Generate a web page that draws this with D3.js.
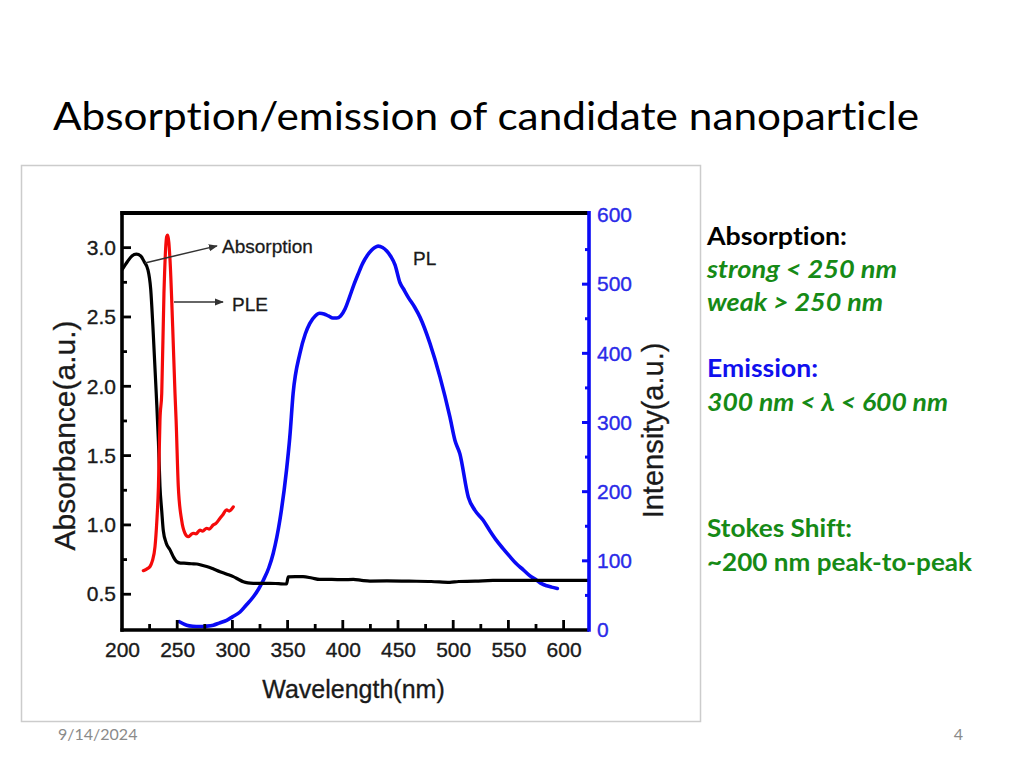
<!DOCTYPE html>
<html>
<head>
<meta charset="utf-8">
<script src="https://cdn.jsdelivr.net/npm/d3@7"></script>
<style>
  html, body { margin: 0; padding: 0; background: #fff; }
  svg { display: block; }
  text { font-variant-ligatures: none; font-feature-settings: "liga" 0, "clig" 0; }
</style>
</head>
<body>
<svg id="chart" width="1024" height="768"></svg>
<script>
// ---------- DATA ----------
const title = "Absorption/emission of candidate nanoparticle";

// Absorption (black, left axis): wavelength nm / absorbance a.u.
const absWavelength = [200, 205, 209, 213, 217, 220, 223.5, 226, 228, 231, 233, 234.4, 236, 237.4, 240, 243.5, 246.5, 249.5, 253, 258.6, 263, 267.7, 272, 276.7, 282, 288.8, 295, 300.8, 305, 309.9, 314, 319, 326, 334, 342, 349, 350.6, 357, 364, 372, 379, 390, 400, 409.5, 417, 424.6, 440, 460, 480, 497, 505, 520, 536, 560, 580, 600, 623];
const absValues     = [2.84, 2.90, 2.94, 2.953, 2.94, 2.90, 2.84, 2.70, 2.43, 1.95, 1.60, 1.276, 1.10, 0.96, 0.87, 0.82, 0.77, 0.735, 0.725, 0.723, 0.72, 0.718, 0.71, 0.70, 0.685, 0.663, 0.645, 0.627, 0.61, 0.59, 0.582, 0.579, 0.578, 0.579, 0.576, 0.574, 0.625, 0.627, 0.627, 0.617, 0.607, 0.607, 0.605, 0.607, 0.60, 0.595, 0.596, 0.594, 0.592, 0.586, 0.592, 0.594, 0.60, 0.60, 0.60, 0.60, 0.60];

// PLE (red, left axis)
const pleWavelength = [219.3, 222, 225.4, 227.5, 229.9, 231.5, 233, 234.4, 236, 238, 240.5, 241.4, 243.5, 245.9, 248, 249, 251, 254, 257, 260, 262.5, 264.6, 267, 270.6, 273, 276.7, 279, 282.7, 285, 288.8, 291, 294.8, 297, 300.8];
const pleValues     = [0.67, 0.68, 0.70, 0.74, 0.843, 1.02, 1.276, 1.757, 1.95, 2.67, 3.08, 3.09, 2.91, 2.43, 1.95, 1.757, 1.276, 1.035, 0.94, 0.915, 0.93, 0.94, 0.935, 0.963, 0.955, 0.976, 0.97, 1.0, 1.01, 1.048, 1.07, 1.108, 1.10, 1.13];

// PL (blue, right axis): intensity a.u.
const plWavelength = [252, 258.6, 264, 270.6, 276, 282.7, 288, 294.8, 300, 306.9, 312, 319, 324, 328, 333, 337, 343, 349, 352, 355, 361, 366, 370, 375, 379, 383, 387, 391, 394.5, 398, 402, 406, 410, 414, 418, 422, 426, 429, 432, 436, 439.8, 443.5, 447.3, 451.8, 455, 459.3, 465, 470, 479, 488, 497, 501.6, 506, 513.7, 519.7, 527, 533, 539, 545, 551.4, 557, 563.5, 569, 575.6, 580, 584.7, 589, 594.3];
const plValues     = [12, 7, 5.5, 5, 5.5, 7, 10, 14, 19, 26, 35, 48, 60, 72, 90, 111, 159, 231, 279, 342, 399, 428, 443, 454, 458, 457, 454, 451, 451, 454, 464, 481, 499, 515, 530, 541, 549, 553, 555, 553, 548, 540, 528, 502, 493, 481, 467, 452, 414, 366, 308, 274, 255, 192, 173, 159, 144, 130, 118, 106, 96, 87, 79, 72, 67, 64, 62, 60];

// Axes tick values / labels
const xTickValues = [200, 250, 300, 350, 400, 450, 500, 550, 600];
const xMinorTicks = [225, 275, 325, 375, 425, 475, 525, 575];
const yLeftTickValues = [0.5, 1.0, 1.5, 2.0, 2.5, 3.0];
const yLeftMinorTicks = [0.75, 1.25, 1.75, 2.25, 2.75];
const yRightTickValues = [0, 100, 200, 300, 400, 500, 600];
const yRightMinorTicks = [50, 150, 250, 350, 450, 550];

const xLabel = "Wavelength(nm)";
const yLeftLabel = "Absorbance(a.u.)";
const yRightLabel = "Intensity(a.u.)";

// annotations (data coordinates)
const annAbsorption = { text: "Absorption", from: [220.8, 2.89], to: [286, 3.013], label: [290.6, 2.962] };
const annPLE = { text: "PLE", from: [247.1, 2.608], to: [291.5, 2.608], label: [299.6, 2.544] };
const annPL = { text: "PL", label: [463.6, 2.875] };

const sideText = [
  { text: "Absorption:", color: "#000000", italic: false, y: 245, w: 140 },
  { text: "strong < 250 nm", color: "#168a16", italic: true, y: 278, w: 190 },
  { text: "weak > 250 nm", color: "#168a16", italic: true, y: 311, w: 176 },
  { text: "Emission:", color: "#1010ee", italic: false, y: 377, w: 111 },
  { text: "300 nm < \u03bb < 600 nm", color: "#168a16", italic: true, y: 411, w: 241 },
  { text: "Stokes Shift:", color: "#168a16", italic: false, y: 537, w: 145 },
  { text: "~200 nm peak-to-peak", color: "#168a16", italic: false, y: 571, w: 265 }
];
const footerDate = "9/14/2024";
const footerPage = "4";

// ---------- DRAWING ----------
const svg = d3.select("#chart");
const chartFont = "'Liberation Sans', Arial, Helvetica, sans-serif";
const slideFont = "Lato, 'Open Sans', sans-serif";

// Title
svg.append("text")
  .attr("x", 53).attr("y", 130)
  .attr("font-family", slideFont).attr("font-size", 39)
  .attr("fill", "#000")
  .attr("textLength", 866).attr("lengthAdjust", "spacingAndGlyphs")
  .text(title);

// picture frame
svg.append("rect")
  .attr("x", 21.5).attr("y", 165.5).attr("width", 679).attr("height", 556)
  .attr("fill", "#fff").attr("stroke", "#cccccc").attr("stroke-width", 1.5);

const L = 122, R = 589, T = 213, B = 630;
const x = d3.scaleLinear().domain([200, 623]).range([L, R]);
const yL = d3.scaleLinear().domain([0.242, 3.25]).range([B, T]);
const yR = d3.scaleLinear().domain([0, 600]).range([B, 215]);

const g = svg.append("g");

// lines
const lineAbs = d3.line().x(d => x(d[0])).y(d => yL(d[1])).curve(d3.curveMonotoneX);
const linePL = d3.line().x(d => x(d[0])).y(d => yR(d[1])).curve(d3.curveMonotoneX);

g.append("path")
  .datum(plWavelength.map((w, i) => [w, plValues[i]]))
  .attr("d", linePL).attr("fill", "none")
  .attr("stroke", "#0a0af5").attr("stroke-width", 3.6).attr("stroke-linejoin", "round").attr("stroke-linecap", "round");

g.append("path")
  .datum(absWavelength.map((w, i) => [w, absValues[i]]))
  .attr("d", lineAbs).attr("fill", "none")
  .attr("stroke", "#000").attr("stroke-width", 3.2).attr("stroke-linejoin", "round");

g.append("path")
  .datum(pleWavelength.map((w, i) => [w, pleValues[i]]))
  .attr("d", lineAbs).attr("fill", "none")
  .attr("stroke", "#f50a0a").attr("stroke-width", 3.2).attr("stroke-linejoin", "round").attr("stroke-linecap", "round");

// axes
const ax = g.append("g").attr("font-family", chartFont);

// top frame line
ax.append("line").attr("x1", L - 1.5).attr("x2", R).attr("y1", T).attr("y2", T)
  .attr("stroke", "#000").attr("stroke-width", 4);

// bottom axis
const xAxis = d3.axisBottom(x).tickValues(xTickValues).tickSize(0).tickPadding(0).tickFormat(d3.format("d"));
const xg = ax.append("g").attr("transform", `translate(0,${B})`).call(xAxis);
xg.select(".domain").remove();
xg.selectAll(".tick text").attr("font-size", 21).attr("fill", "#1a1a1a")
  .attr("stroke", "#1a1a1a").attr("stroke-width", 0.35).attr("dy", null).attr("y", 27);
ax.append("line").attr("x1", L - 1.5).attr("x2", R).attr("y1", B).attr("y2", B).attr("stroke", "#000").attr("stroke-width", 3.6);
ax.selectAll(".xmaj").data(xTickValues.filter(d => d > 200)).join("line")
  .attr("x1", d => x(d)).attr("x2", d => x(d)).attr("y1", B).attr("y2", B - 10)
  .attr("stroke", "#000").attr("stroke-width", 2.8);
ax.selectAll(".xmin").data(xMinorTicks).join("line")
  .attr("x1", d => x(d)).attr("x2", d => x(d)).attr("y1", B).attr("y2", B - 6)
  .attr("stroke", "#000").attr("stroke-width", 2.8);

// left axis
const yLAxis = d3.axisLeft(yL).tickValues(yLeftTickValues).tickSize(0).tickPadding(6).tickFormat(d3.format(".1f"));
const ylg = ax.append("g").attr("transform", `translate(${L},0)`).call(yLAxis);
ylg.select(".domain").remove();
ylg.selectAll(".tick text").attr("font-size", 21).attr("fill", "#1a1a1a")
  .attr("stroke", "#1a1a1a").attr("stroke-width", 0.35);
ax.append("line").attr("x1", L).attr("x2", L).attr("y1", T - 2).attr("y2", B + 1.8).attr("stroke", "#000").attr("stroke-width", 3.6);
ax.selectAll(".ylmaj").data(yLeftTickValues).join("line")
  .attr("x1", L).attr("x2", L + 9).attr("y1", d => yL(d)).attr("y2", d => yL(d))
  .attr("stroke", "#000").attr("stroke-width", 2.8);
ax.selectAll(".ylmin").data(yLeftMinorTicks).join("line")
  .attr("x1", L).attr("x2", L + 5).attr("y1", d => yL(d)).attr("y2", d => yL(d))
  .attr("stroke", "#000").attr("stroke-width", 2.8);

// right axis (blue)
const yRAxis = d3.axisRight(yR).tickValues(yRightTickValues).tickSize(0).tickPadding(8).tickFormat(d3.format("d"));
const yrg = ax.append("g").attr("transform", `translate(${R},0)`).call(yRAxis);
yrg.select(".domain").remove();
yrg.selectAll(".tick text").attr("font-size", 21).attr("fill", "#2a2ae8")
  .attr("stroke", "#2a2ae8").attr("stroke-width", 0.35);
ax.append("line").attr("x1", R).attr("x2", R).attr("y1", T - 2).attr("y2", B + 1.8).attr("stroke", "#0a0af5").attr("stroke-width", 3.6);
ax.selectAll(".yrmaj").data(yRightTickValues.filter(d => d > 0 && d < 600)).join("line")
  .attr("x1", R).attr("x2", R - 7).attr("y1", d => yR(d)).attr("y2", d => yR(d))
  .attr("stroke", "#0a0af5").attr("stroke-width", 3);
ax.selectAll(".yrmin").data(yRightMinorTicks).join("line")
  .attr("x1", R).attr("x2", R - 4).attr("y1", d => yR(d)).attr("y2", d => yR(d))
  .attr("stroke", "#0a0af5").attr("stroke-width", 3);

// axis titles
ax.append("text").attr("x", (L + R) / 2 - 2).attr("y", 698)
  .attr("text-anchor", "middle").attr("font-size", 25).attr("fill", "#1a1a1a")
  .attr("stroke", "#1a1a1a").attr("stroke-width", 0.3).text(xLabel);
ax.append("text").attr("transform", `translate(75,${(T + B) / 2 + 14}) rotate(-90)`)
  .attr("text-anchor", "middle").attr("font-size", 30).attr("fill", "#1a1a1a")
  .attr("stroke", "#1a1a1a").attr("stroke-width", 0.3).text(yLeftLabel);
ax.append("text").attr("transform", `translate(663,${(T + B) / 2 + 9}) rotate(-90)`)
  .attr("text-anchor", "middle").attr("font-size", 29).attr("fill", "#1a1a1a")
  .attr("stroke", "#1a1a1a").attr("stroke-width", 0.3).text(yRightLabel);

// annotations
svg.append("defs").append("marker")
  .attr("id", "arrow").attr("viewBox", "0 0 10 10").attr("refX", 9).attr("refY", 5)
  .attr("markerWidth", 6).attr("markerHeight", 6).attr("markerUnits", "strokeWidth")
  .attr("orient", "auto")
  .append("path").attr("d", "M0,1 L10,5 L0,9 Z").attr("fill", "#333");

[annAbsorption, annPLE].forEach(a => {
  ax.append("line")
    .attr("x1", x(a.from[0])).attr("y1", yL(a.from[1]))
    .attr("x2", x(a.to[0])).attr("y2", yL(a.to[1]))
    .attr("stroke", "#333").attr("stroke-width", 1.5).attr("marker-end", "url(#arrow)");
});
[annAbsorption, annPLE, annPL].forEach(a => {
  ax.append("text").attr("x", x(a.label[0])).attr("y", yL(a.label[1]))
    .attr("font-size", 19).attr("fill", "#1a1a1a")
    .attr("stroke", "#1a1a1a").attr("stroke-width", 0.3).text(a.text);
});

// side text
sideText.forEach(s => {
  svg.append("text")
    .attr("x", 707).attr("y", s.y)
    .attr("font-family", slideFont).attr("font-size", 25).attr("font-weight", "bold")
    .attr("font-style", s.italic ? "italic" : "normal")
    .attr("fill", s.color)
    .attr("textLength", s.w).attr("lengthAdjust", "spacingAndGlyphs")
    .text(s.text);
});

// footer
svg.append("text").attr("x", 58).attr("y", 740)
  .attr("font-family", slideFont).attr("font-size", 16).attr("fill", "#8a8a8a").text(footerDate);
svg.append("text").attr("x", 963).attr("y", 740).attr("text-anchor", "end")
  .attr("font-family", slideFont).attr("font-size", 16).attr("fill", "#8a8a8a").text(footerPage);
</script>
</body>
</html>
